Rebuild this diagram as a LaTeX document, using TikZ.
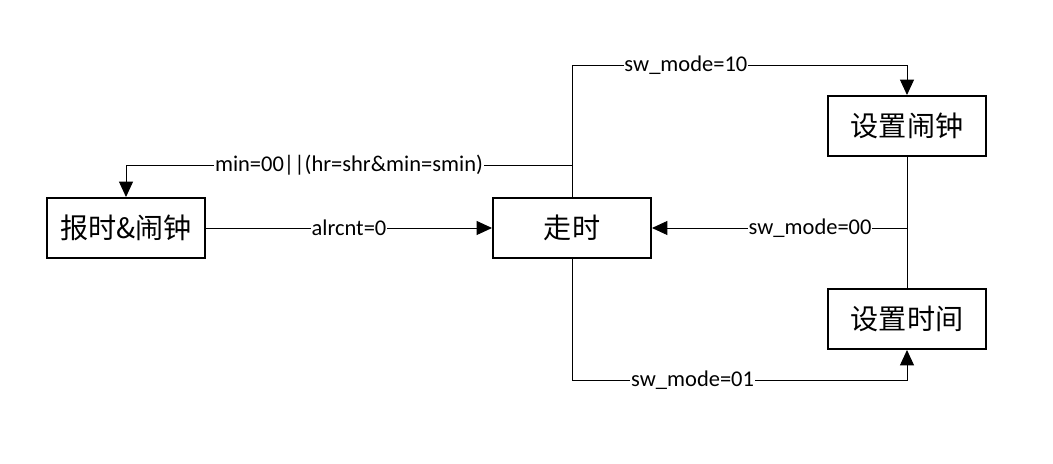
\documentclass[tikz,border=0pt]{standalone}
\usepackage{fontspec}
\setmainfont{Carlito}
\newfontfamily\cjk{Noto Sans CJK SC}
\usetikzlibrary{arrows.meta}

\begin{document}
\begin{tikzpicture}[x=0.025cm,y=-0.025cm,line width=0.7pt,
    state/.style={draw,line width=1.4pt,minimum width=3.95cm,minimum height=1.5cm,
        font=\cjk\fontsize{20}{23}\selectfont},
    lbl/.style={fill=white,inner sep=0.5pt,font=\fontsize{16}{18}\selectfont},
    tip/.style={-{Triangle[length=11pt,width=10pt]}}]
    \useasboundingbox (0,0) rectangle (1053,464);
    % states
    \node[state] (alarm) at (126,228) {报时\&闹钟};
    \node[state] (run) at (572,228) {走时};
    \node[state] (setalarm) at (907,126) {设置闹钟};
    \node[state] (settime) at (907,319) {设置时间};
    % bends
    \coordinate (top1) at (572,65);
    \coordinate (up1) at (572,165);
    \coordinate (bot1) at (572,380);
    \coordinate (j1) at (907,228);
    % transitions
    \draw[tip] (alarm) -- node[lbl]{alrcnt=0} (run);
    \draw[tip] (run.north) -- (up1) -| node[lbl,pos=0.25]{min=00||(hr=shr\&min=smin)} (alarm.north);
    \draw[tip] (up1) -- (top1) -| node[lbl,pos=0.17]{sw\_mode=10} (setalarm.north);
    \draw[tip] (run.south) -- (bot1) -| node[lbl,pos=0.18]{sw\_mode=01} (settime.south);
    \draw (setalarm) -- (settime);
    \draw[tip] (j1) -- node[lbl,pos=0.38]{sw\_mode=00} (run);
\end{tikzpicture}
\end{document}
